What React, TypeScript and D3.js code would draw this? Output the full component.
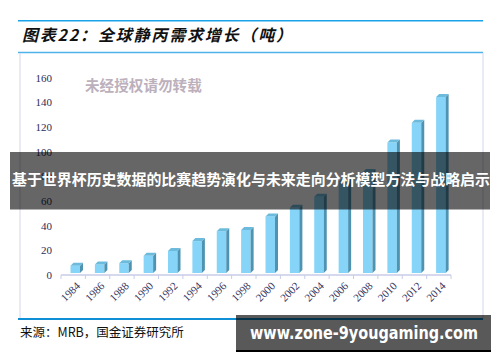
import React from "react";
import * as d3 from "d3";

// 全球静丙需求（吨），按柱顶读数估计
const years = [
  "1984", "1986", "1988", "1990", "1992", "1994", "1996", "1998",
  "2000", "2002", "2004", "2006", "2008", "2010", "2012", "2014",
];
const demand = [10, 11, 12, 18, 22, 30, 38, 39, 50, 57, 66, 78, 86, 110, 126, 147];
const yTicks = [0, 20, 40, 60, 80, 100, 120, 140, 160];

const titleText = "图表22：全球静丙需求增长（吨）";
const sourceText = "来源：MRB，国金证券研究所";
const watermarkText = "未经授权请勿转载";
const bannerText = "基于世界杯历史数据的比赛趋势演化与未来走向分析模型方法与战略启示";
const urlText = "www.zone-9yougaming.com";

const W = 500;
const H = 362;
const cjk = "'Noto Sans CJK SC', 'Noto Sans', sans-serif";
const serif = "'Liberation Serif', 'DejaVu Serif', serif";

const App = () => {
  const x = d3.scaleBand().domain(years).range([61, 451]).padding(0);
  const y = d3.scaleLinear().domain([0, 160]).range([275, 78]);

  const floor = 273;
  const depth = 3;
  const faceW = 9.5;

  return (
    <div style={{ position: "absolute", left: 0, top: 0 }}>
      <svg width={W} height={H} style={{ display: "block" }}>
        <rect x={0} y={0} width={W} height={H} fill="#ffffff" />

        {/* title lines */}
        <line x1={18} x2={483} y1={20.7} y2={20.7} stroke="#1aa3e8" strokeWidth={1.6} />
        <text
          x={22}
          y={41}
          fontFamily={cjk}
          fontSize={16}
          fontWeight="bold"
          fontStyle="italic"
          fill="#111"
          textLength={270}
          lengthAdjust="spacing"
        >
          {titleText}
        </text>
        <line x1={18} x2={483} y1={52.5} y2={52.5} stroke="#4fb3ea" strokeWidth={1.6} />

        {/* chart frame */}
        <line x1={20} x2={20} y1={53} y2={318} stroke="#d6d6ec" strokeWidth={1} />
        <line x1={483} x2={483} y1={53} y2={318} stroke="#d6d6ec" strokeWidth={1} />

        {/* watermark */}
        <text x={85} y={91} fontFamily={cjk} fontSize={14.6} fontWeight="bold" fill="#bcb0bc">
          {watermarkText}
        </text>

        {/* y tick labels */}
        {yTicks.map((t) => (
          <text
            key={t}
            x={52}
            y={y(t)}
            dy="0.35em"
            textAnchor="end"
            fontFamily={serif}
            fontSize={11}
            fill="#2c2c58"
          >
            {t}
          </text>
        ))}

        {/* bars (3D look) */}
        {years.map((yr, i) => {
          const v = demand[i];
          const top = y(v);
          const fx = (x(yr) as number) + 9.5;
          const ft = top + depth;
          return (
            <g key={yr}>
              <rect x={fx} y={ft} width={faceW} height={floor - ft} fill="#86d5f8" />
              <polygon
                points={`${fx + faceW},${ft} ${fx + faceW + depth},${ft - depth} ${fx + faceW + depth},${floor - depth} ${fx + faceW},${floor}`}
                fill="#4f93b2"
              />
              <polygon
                points={`${fx},${ft} ${fx + depth},${ft - depth} ${fx + faceW + depth},${ft - depth} ${fx + faceW},${ft}`}
                fill="#6cbbdd"
              />
            </g>
          );
        })}

        {/* x axis */}
        <line x1={61} x2={451} y1={275} y2={275} stroke="#c8cce8" strokeWidth={1.5} />
        {[...years.map((yr) => x(yr) as number), 451].map((tx, i) => (
          <line key={i} x1={tx} x2={tx} y1={275} y2={279} stroke="#c8cce8" strokeWidth={1} />
        ))}
        {years.map((yr) => {
          const cx = (x(yr) as number) + x.bandwidth() / 2 + 3;
          return (
            <text
              key={yr}
              transform={`translate(${cx},${282}) rotate(-45)`}
              textAnchor="end"
              dy="0.6em"
              fontFamily={serif}
              fontSize={11}
              fill="#34345e"
            >
              {yr}
            </text>
          );
        })}

        {/* bottom line + source */}
        <line x1={18} x2={483} y1={319} y2={319} stroke="#0f8fd6" strokeWidth={2} />
        <text x={20} y={337} fontFamily={cjk} fontSize={12.5} fill="#111">
          {sourceText}
        </text>

        {/* overlay banner */}
        <rect x={10} y={152} width={480} height={57.5} fill="#000" fillOpacity={0.6} />
        <text
          x={251}
          y={180}
          dy="0.35em"
          textAnchor="middle"
          fontFamily={cjk}
          fontSize={15}
          fontWeight="bold"
          fill="#fff"
          textLength={478}
          lengthAdjust="spacingAndGlyphs"
        >
          {bannerText}
        </text>

        {/* url banner */}
        <rect x={236} y={315} width={255} height={35} fill="#000" fillOpacity={0.65} />
        <rect x={236} y={350} width={255} height={2} fill="#000" />
        <text
          x={250}
          y={333}
          dy="0.35em"
          fontFamily="'DejaVu Sans', sans-serif"
          fontSize={17}
          fontWeight="bold"
          fill="#fff"
          textLength={228}
          lengthAdjust="spacingAndGlyphs"
        >
          {urlText}
        </text>
      </svg>
    </div>
  );
};

export default App;
